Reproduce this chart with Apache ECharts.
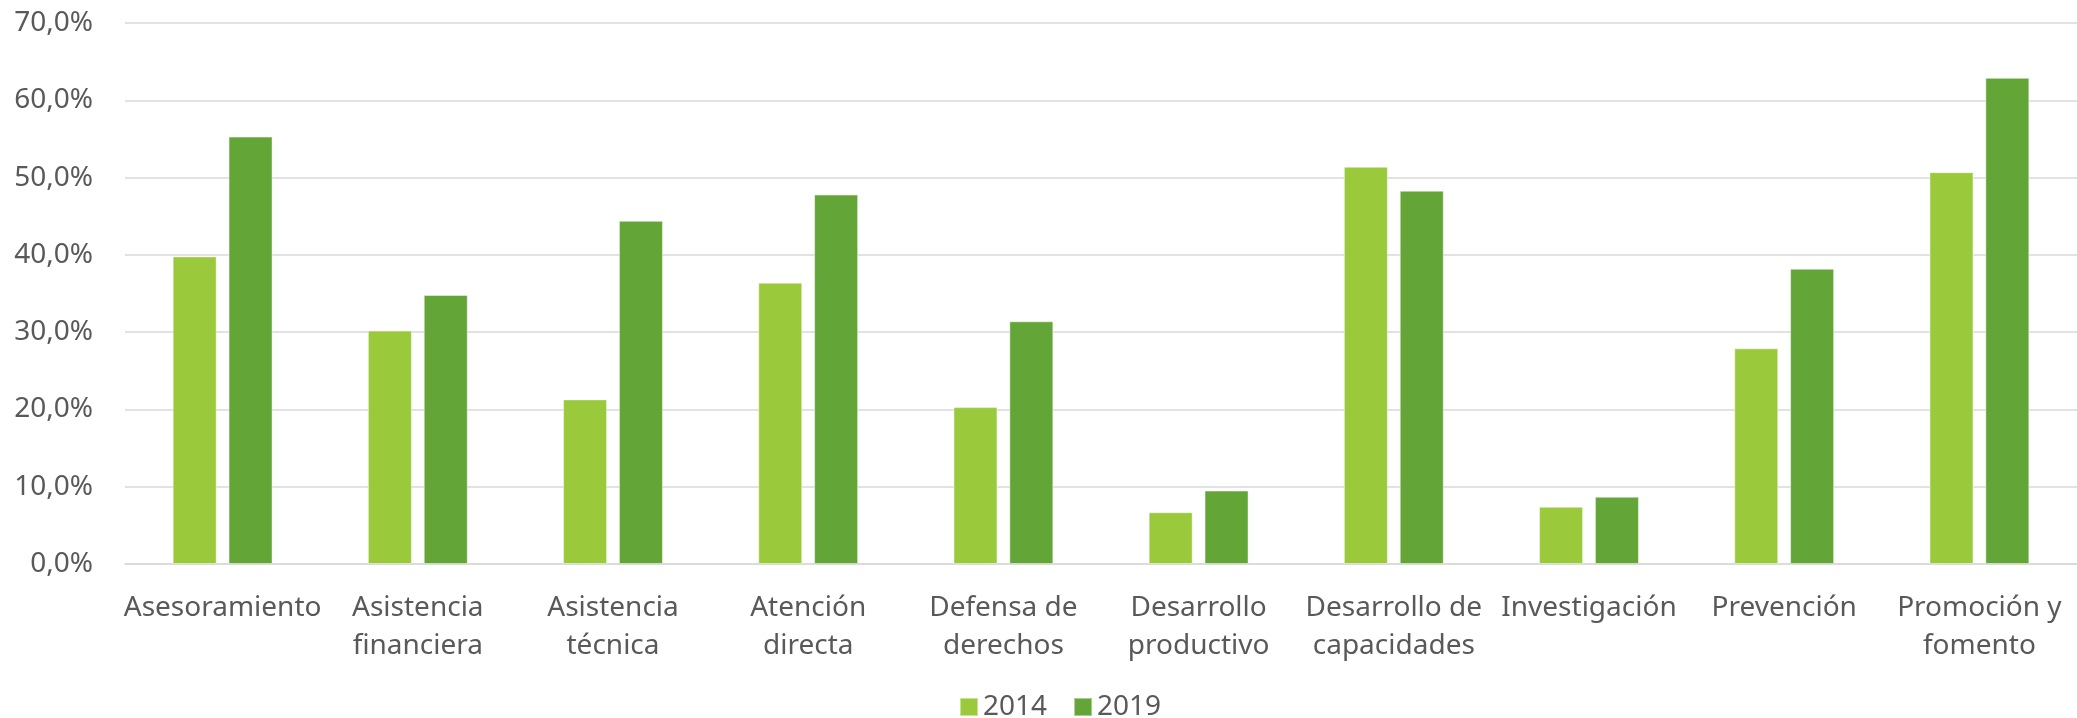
<!DOCTYPE html>
<html>
<head>
<meta charset="utf-8">
<title>Áreas de intervención 2014 vs 2019</title>
<script src="https://cdn.jsdelivr.net/npm/echarts@6/dist/echarts.min.js"></script>
<style>
  html, body { margin: 0; padding: 0; background: #ffffff; }
  #chart { width: 2077px; height: 718px; }
</style>
</head>
<body>
<div id="chart"></div>
<script>
// Categories (two-line labels as printed under the axis)
const categories = [
  'Asesoramiento',
  'Asistencia\nfinanciera',
  'Asistencia\ntécnica',
  'Atención\ndirecta',
  'Defensa de\nderechos',
  'Desarrollo\nproductivo',
  'Desarrollo de\ncapacidades',
  'Investigación',
  'Prevención',
  'Promoción y\nfomento'
];

// Share of organisations per area, in percent
const values2014 = [39.8, 30.2, 21.3, 36.4, 20.3, 6.7, 51.4, 7.4, 27.9, 50.7];
const values2019 = [55.3, 34.8, 44.4, 47.8, 31.4, 9.5, 48.3, 8.7, 38.2, 62.9];

const seriesNames = ['2014', '2019'];

// Value axis ticks (percent)
const yTicks = [0, 10, 20, 30, 40, 50, 60, 70];

const textColor = '#595959';
const gridColor = '#d9d9d9';
const fontFamily = '"Noto Sans", "Open Sans", sans-serif';

const chart = echarts.init(document.getElementById('chart'), null, { renderer: 'canvas' });

const barStyle = (color) => ({
  color: color,
  borderColor: 'rgba(255,255,255,0.45)',
  borderWidth: 1
});

chart.setOption({
  backgroundColor: '#ffffff',
  animation: false,
  textStyle: { fontFamily: fontFamily },
  grid: {
    left: 125,
    top: 23,
    width: 1957,
    height: 541,
    containLabel: false
  },
  legend: {
    data: seriesNames,
    left: 959,
    top: 693,
    padding: 0,
    itemWidth: 18,
    itemHeight: 18,
    itemGap: 26,
    icon: 'rect',
    textStyle: { color: textColor, fontSize: 28, fontFamily: fontFamily }
  },
  xAxis: {
    type: 'category',
    data: categories,
    axisLine: { show: true, lineStyle: { color: gridColor, width: 1.5 } },
    axisTick: { show: false },
    axisLabel: {
      color: textColor,
      fontSize: 28,
      lineHeight: 38,
      margin: 25,
      interval: 0,
      fontFamily: fontFamily
    }
  },
  yAxis: {
    type: 'value',
    min: yTicks[0],
    max: yTicks[yTicks.length - 1],
    interval: yTicks[1] - yTicks[0],
    axisLine: { show: false },
    axisTick: { show: false },
    splitLine: { lineStyle: { color: gridColor, width: 1.5 } },
    axisLabel: {
      color: textColor,
      fontSize: 28,
      margin: 32,
      fontFamily: fontFamily,
      formatter: (v) => v.toFixed(1).replace('.', ',') + '%'
    }
  },
  series: [
    {
      name: seriesNames[0],
      type: 'bar',
      data: values2014,
      barWidth: 44,
      barGap: '27%',
      itemStyle: barStyle('#9aca3c')
    },
    {
      name: seriesNames[1],
      type: 'bar',
      data: values2019,
      barWidth: 44,
      barGap: '27%',
      itemStyle: barStyle('#63a537')
    }
  ]
});
</script>
</body>
</html>
